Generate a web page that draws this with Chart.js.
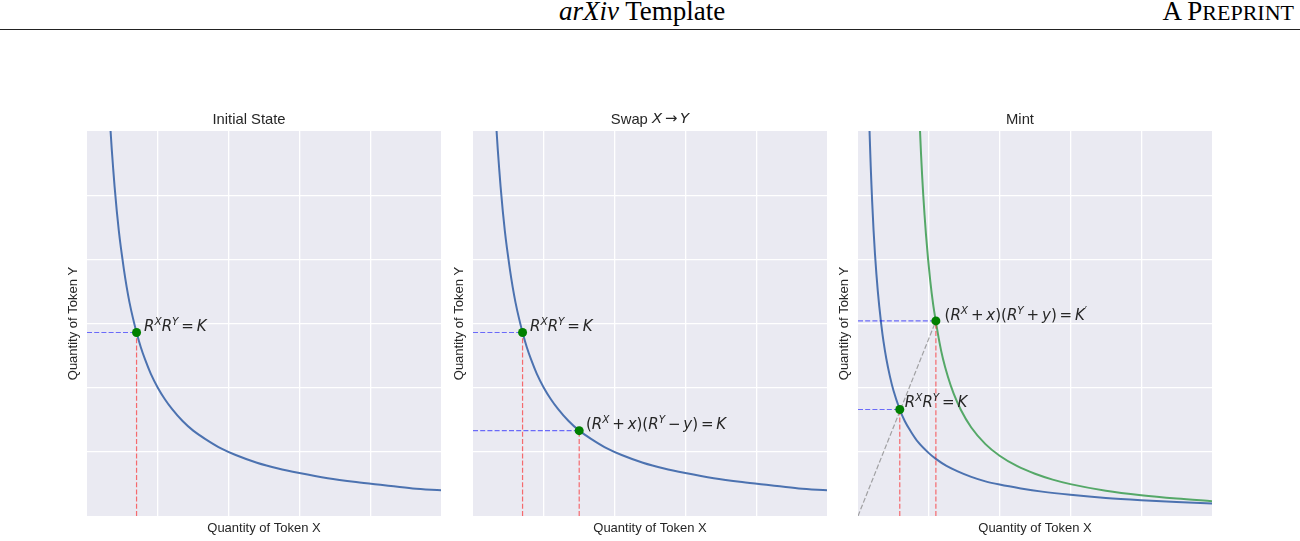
<!DOCTYPE html>
<html lang="en">
<head>
<meta charset="UTF-8">
<title>Constant product curves</title>
<script src="https://cdn.jsdelivr.net/npm/chart.js"></script>
<style>
    body {
        margin: 0;
        width: 1300px;
        height: 541px;
        overflow: hidden;
        background: #fff;
        position: relative;
    }
    .head {
        position: absolute;
        top: -2px;
        font-family: "Liberation Serif", "Times New Roman", serif;
        font-size: 27px;
        line-height: 26px;
        color: #000;
        white-space: nowrap;
    }
    .mid { left: 559px; }
    .right { right: 6px; }
    .sc { font-size: 22px; }
    .rule {
        position: absolute;
        left: 0;
        top: 29px;
        width: 1300px;
        height: 1px;
        background: #222;
    }
    canvas { position: absolute; top: 100px; }
</style>
</head>
<body>

<div class="head mid"><i>arXiv</i> Template</div>
<div class="head right">A P<span class="sc">REPRINT</span></div>
<div class="rule"></div>

<canvas id="initChart" width="390" height="441" style="left:57px"></canvas>
<canvas id="swapChart" width="390" height="441" style="left:443px"></canvas>
<canvas id="mintChart" width="390" height="441" style="left:828px"></canvas>

<script>
// axis ranges (tick labels are hidden in the figure, only the grid shows)
const xMin = 0, xMax = 5, yMin = 0, yMax = 6;
const gridStep = 1;

// curve R^X R^Y = K used in the first two panels
const curveKX = [0.333, 0.35, 0.37, 0.39, 0.42, 0.45, 0.48, 0.52, 0.56, 0.60, 0.65, 0.70, 0.76, 0.82, 0.90,
                 1.00, 1.10, 1.20, 1.35, 1.50, 1.70, 1.90, 2.10, 2.40, 2.70, 3.00, 3.40, 3.80, 4.20, 4.60, 5.00];
const curveKY = [6.00, 5.71, 5.41, 5.13, 4.76, 4.44, 4.17, 3.85, 3.57, 3.33, 3.08, 2.86, 2.63, 2.44, 2.22,
                 2.00, 1.82, 1.67, 1.48, 1.33, 1.18, 1.05, 0.95, 0.83, 0.74, 0.67, 0.59, 0.53, 0.48, 0.43, 0.40];

// mint panel, old curve
const mintOldX = [0.163, 0.17, 0.18, 0.19, 0.20, 0.22, 0.24, 0.26, 0.28, 0.30, 0.33, 0.36, 0.40, 0.45, 0.50, 0.59,
                  0.66, 0.75, 0.85, 1.00, 1.10, 1.25, 1.40, 1.60, 1.80, 2.00, 2.30, 2.60, 3.00, 3.50, 4.00, 4.50, 5.00];
const mintOldY = [6.00, 5.76, 5.44, 5.16, 4.90, 4.45, 4.08, 3.77, 3.50, 3.27, 2.97, 2.72, 2.45, 2.18, 1.96, 1.66,
                  1.48, 1.31, 1.15, 0.98, 0.89, 0.78, 0.70, 0.61, 0.54, 0.49, 0.43, 0.38, 0.33, 0.28, 0.245, 0.218, 0.196];

// mint panel, new curve K'
const mintNewX = [0.876, 0.89, 0.905, 0.92, 0.94, 0.96, 0.99, 1.02, 1.06, 1.10, 1.15, 1.20, 1.27, 1.35,
                  1.45, 1.60, 1.80, 2.00, 2.25, 2.50, 2.75, 3.00, 3.50, 4.00, 4.50, 5.00];
const mintNewY = [6.00, 5.65, 5.32, 5.03, 4.69, 4.39, 4.00, 3.67, 3.31, 3.03, 2.71, 2.45, 2.17, 1.91,
                  1.66, 1.38, 1.12, 0.939, 0.776, 0.658, 0.567, 0.497, 0.394, 0.323, 0.271, 0.231];

// reserve points
const initX = [0.70];
const initY = [2.86];
const swapX = [0.70, 1.50];
const swapY = [2.86, 1.33];
const mintX = [0.59, 1.10];
const mintY = [1.66, 3.04];

const panelTitles = ['Initial State', 'Swap $X→Y$', 'Mint'];
const initLabels = ['$R^XR^Y=K$'];
const swapLabels = ['$R^XR^Y=K$', '$(R^X+x)(R^Y−y)=K$'];
const mintLabels = ['$R^XR^Y=K$', '$(R^X+x)(R^Y+y)=K^{′}$'];

const textColor = '#262626';
const sansFamily = '"Liberation Sans", Arial, sans-serif';
const mathFamily = '"DejaVu Sans"';

// --- tiny mathtext-ish renderer: $...$ = math, ^X / ^{..} = superscript
function layoutRich(ctx, src, size) {
    const runs = [];
    let x = 0;
    let math = false;
    const spaced = '+−=→';
    const put = (ch, sup) => {
        const s = sup ? size * 0.7 : size;
        let font;
        if (!math) font = s + 'px ' + sansFamily;
        else font = (/[A-Za-z]/.test(ch) ? 'italic ' : '') + s + 'px ' + mathFamily;
        ctx.font = font;
        const pad = (math && !sup && spaced.includes(ch)) ? size * 0.19 : 0;
        x += pad;
        runs.push({ ch, font, x, dy: sup ? -size * 0.4 : 0 });
        x += ctx.measureText(ch).width + pad;
    };
    let i = 0;
    while (i < src.length) {
        const ch = src[i];
        if (ch === '$') { math = !math; i++; continue; }
        if (math && ch === '^') {
            i++;
            let grp;
            if (src[i] === '{') {
                const j = src.indexOf('}', i);
                grp = src.slice(i + 1, j);
                i = j + 1;
            } else {
                grp = src[i];
                i++;
            }
            for (const c of grp) put(c, true);
            continue;
        }
        if (!(math && ch === ' ')) put(ch, false);
        i++;
    }
    return { runs, width: x };
}

function drawRich(ctx, src, x, y, size, align, baseline) {
    const lay = layoutRich(ctx, src, size);
    const x0 = align === 'center' ? x - lay.width / 2 : x;
    ctx.textBaseline = baseline;
    ctx.textAlign = 'left';
    lay.runs.forEach(r => {
        ctx.font = r.font;
        ctx.fillText(r.ch, x0 + r.x, y + r.dy);
    });
}

const plotBg = {
    id: 'plotBg',
    beforeDraw(chart) {
        const { ctx, chartArea: a } = chart;
        ctx.save();
        ctx.fillStyle = '#eaeaf2';
        ctx.fillRect(a.left, a.top, a.width, a.height);
        ctx.restore();
    }
};

const richText = {
    id: 'richText',
    afterDatasetsDraw(chart, args, opts) {
        const { ctx, chartArea: a, scales } = chart;
        ctx.save();
        ctx.fillStyle = textColor;
        if (opts.title) {
            drawRich(ctx, opts.title, (a.left + a.right) / 2, a.top - 11.5, 14.8, 'center', 'middle');
        }
        (opts.labels || []).forEach(l => {
            const px = scales.x.getPixelForValue(l.x) + l.dx;
            const py = scales.y.getPixelForValue(l.y) + l.dy;
            drawRich(ctx, l.text, px, py, 15, 'left', 'alphabetic');
        });
        ctx.restore();
    }
};

function axis(title, min, max, isX) {
    return {
        type: 'linear',
        min: min,
        max: max,
        ticks: { display: false, stepSize: gridStep },
        grid: {
            color: c => (c.tick && (c.tick.value === min || c.tick.value === max)) ? 'rgba(0,0,0,0)' : '#ffffff',
            lineWidth: 1.3,
            drawTicks: false
        },
        border: { display: false },
        title: {
            display: true,
            text: title,
            color: textColor,
            font: { family: sansFamily, size: 13, lineHeight: '16px' },
            padding: isX ? { top: 0, bottom: 5 } : { top: 8.5, bottom: 0 }
        },
        afterFit: s => { if (isX) s.height = 25; else s.width = 30; }
    };
}

function curve(xs, ys, color) {
    return {
        data: xs.map((v, i) => ({ x: v, y: ys[i] })),
        showLine: true,
        borderColor: color,
        borderWidth: 2,
        pointRadius: 0,
        cubicInterpolationMode: 'monotone',
        clip: 0,
        order: 2
    };
}

function dashed(a, b, color) {
    return {
        data: [a, b],
        showLine: true,
        borderColor: color,
        borderWidth: 1.2,
        borderDash: [5, 2.2],
        pointRadius: 0,
        clip: 0,
        order: 1
    };
}

function makePanel(id, title, curves, px, py, labels, offsets, extra) {
    const datasets = [{
        data: px.map((v, i) => ({ x: v, y: py[i] })),
        backgroundColor: '#008000',
        borderWidth: 0,
        pointRadius: 4.5,
        order: 0
    }];
    px.forEach((v, i) => {
        datasets.push(dashed({ x: xMin, y: py[i] }, { x: v, y: py[i] }, 'rgba(0,0,255,0.55)'));
        datasets.push(dashed({ x: v, y: yMin }, { x: v, y: py[i] }, 'rgba(255,0,0,0.55)'));
    });
    (extra || []).forEach(d => datasets.push(d));
    curves.forEach(c => datasets.push(c));

    const plainTitle = !title.includes('$');
    return new Chart(document.getElementById(id), {
        type: 'scatter',
        data: { datasets },
        options: {
            responsive: false,
            animation: false,
            events: [],
            layout: { padding: { top: plainTitle ? 0 : 31, right: 6, left: 0, bottom: 0 } },
            scales: {
                x: axis('Quantity of Token X', xMin, xMax, true),
                y: axis('Quantity of Token Y', yMin, yMax, false)
            },
            plugins: {
                legend: { display: false },
                tooltip: { enabled: false },
                title: {
                    display: plainTitle,
                    text: title,
                    color: textColor,
                    font: { family: sansFamily, size: 14.8, weight: 'normal', lineHeight: '16px' },
                    padding: { top: 11.5, bottom: 3.5 }
                },
                richText: {
                    title: plainTitle ? null : title,
                    labels: labels.map((t, i) => ({ x: px[i], y: py[i], dx: offsets[i][0], dy: offsets[i][1], text: t }))
                }
            }
        },
        plugins: [plotBg, richText]
    });
}

const blue = '#4c72b0';
const green = '#55a868';

makePanel('initChart', panelTitles[0],
    [curve(curveKX, curveKY, blue)],
    initX, initY, initLabels, [[7.5, -1]]);

makePanel('swapChart', panelTitles[1],
    [curve(curveKX, curveKY, blue)],
    swapX, swapY, swapLabels, [[7.5, -1], [6.7, -1.7]]);

makePanel('mintChart', panelTitles[2],
    [curve(mintOldX, mintOldY, blue), curve(mintNewX, mintNewY, green)],
    mintX, mintY, mintLabels, [[5, -2.4], [8.7, -0.7]],
    [dashed({ x: xMin, y: yMin }, { x: mintX[1], y: mintY[1] }, 'rgba(128,128,128,0.7)')]);
</script>

</body>
</html>
